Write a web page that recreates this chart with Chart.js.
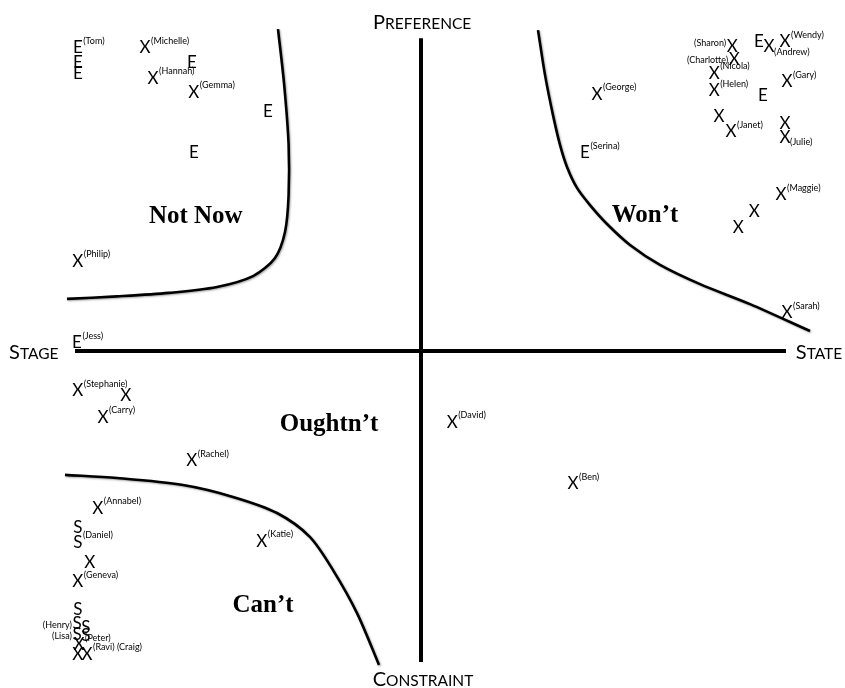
<!DOCTYPE html>
<html><head><meta charset="utf-8">
<script src="https://cdn.jsdelivr.net/npm/chart.js@4/dist/chart.umd.min.js"></script>
<style>html,body{margin:0;padding:0;background:#fff}#wrap{width:845px;height:688px;position:relative}</style>
</head><body><div id="wrap"><canvas id="c"></canvas></div>
<script>
// ---- data (units: arbitrary preference/constraint space, origin at axes crossing) ----
const markerLetters = ['E','E','E','X','E','X','X','E','E','X',
  'X','E','X','X','X','X','X','X','X','E','X','X','X','X','E','X','X','X','X',
  'E','X','X','X','X','X','X','X',
  'X','S','S','X','X','S','S','S','S','S','X','X','X'];
const markerX = [-8.58,-8.58,-8.58,-6.9,-5.73,-6.7,-5.68,-3.83,-5.68,-8.58,
  7.78,8.45,8.7,9.1,7.83,7.33,9.15,4.4,7.33,8.55,7.45,7.75,9.1,9.1,4.1,9.0,8.33,7.93,9.15,
  -8.6,-8.58,-7.38,-7.95,-5.73,-3.98,0.78,3.8,
  -8.08,-8.58,-8.58,-8.28,-8.58,-8.58,-8.6,-8.38,-8.6,-8.38,-8.55,-8.58,-8.35];
const markerY = [8.66,8.23,7.94,8.66,8.23,7.8,7.4,6.83,5.66,2.57,
  8.69,8.83,8.69,8.83,8.34,7.94,7.69,7.34,7.43,7.29,6.71,6.26,6.49,6.11,5.66,4.46,4.0,3.54,1.09,
  0.23,-1.14,-1.26,-1.89,-3.14,-5.43,-2.03,-3.8,
  -4.49,-5.03,-5.46,-6.03,-6.6,-7.4,-7.8,-7.89,-8.11,-8.14,-8.4,-8.66,-8.66];
const markerNames = ['(Tom)','','','(Michelle)','','(Hannah)','(Gemma)','','','(Philip)',
  '(Sharon)','','(Andrew)','(Wendy)','(Charlotte)','(Nicola)','(Gary)','(George)','(Helen)','','','(Janet)','','(Julie)','(Serina)','(Maggie)','','','(Sarah)',
  '(Jess)','(Stephanie)','','(Carry)','(Rachel)','(Katie)','(David)','(Ben)',
  '(Annabel)','','(Daniel)','','(Geneva)','','(Henry)','','(Lisa)','','(Peter)','','(Ravi) (Craig)'];
const namePlacement = ['sup','','','sup','','sup','sup','','','sup',
  'leftSup','','sub','sup','left','sup','sup','sup','sup','','','sup','','sub','sup','sup','','','sup',
  'sup','sup','','sup','sup','sup','sup','sup',
  'sup','','sup','','sup','','left','','left','','sup','','sup'];

const notNowX = [-3.575,-3.42,-3.31,-3.31,-3.4,-3.65,-4.2,-5.1,-6.3,-7.6,-8.85];
const notNowY = [9.2,7.6,5.9,4.45,3.4,2.66,2.14,1.83,1.66,1.56,1.49];
const wontX = [2.925,3.1,3.3,3.475,3.65,3.9,4.225,4.65,5.225,5.975,6.975,8.225,9.725];
const wontY = [9.17,7.89,6.74,5.89,5.26,4.66,4.17,3.63,3.03,2.46,1.91,1.34,0.57];
const cantX = [-8.9,-7.6,-5.95,-4.7,-3.6,-2.78,-2.2,-1.6,-1.05];
const cantY = [-3.54,-3.63,-3.83,-4.17,-4.63,-5.31,-6.26,-7.49,-8.97];

const axisHX = [-8.65, 9.125], axisHY = [0, 0];
const axisVX = [0, 0], axisVY = [8.94, -8.89];

const regionLabels = ['Not Now','Won\u2019t','Oughtn\u2019t','Can\u2019t'];
const regionX = [-5.63, 5.6, -2.3, -3.95];
const regionY = [3.83, 3.86, -2.09, -7.26];

const axisTitles = ['Preference','Constraint','Stage','State'];
const axisTitleX = [0.03, 0.05, -9.68, 9.95];
const axisTitleY = [9.2, -9.57, -0.23, -0.23];

// ---- helpers ----
const pts = (xs, ys) => xs.map((x, i) => ({x, y: ys[i]}));
const SANS = 'Lato, "Open Sans", sans-serif';

function drawSmallCaps(ctx, text, cx, base, big, small) {
  const first = text[0].toUpperCase(), rest = text.slice(1).toUpperCase();
  ctx.font = big + 'px ' + SANS; const w1 = ctx.measureText(first).width;
  ctx.font = small + 'px ' + SANS; const w2 = ctx.measureText(rest).width;
  const x0 = cx - (w1 + w2) / 2;
  ctx.textAlign = 'left'; ctx.textBaseline = 'alphabetic';
  ctx.font = big + 'px ' + SANS; ctx.fillText(first, x0, base);
  ctx.font = small + 'px ' + SANS; ctx.fillText(rest, x0 + w1, base);
}

const textPlugin = {
  id: 'textPlugin',
  beforeDatasetDraw(chart, args) {
    const ds = chart.data.datasets[args.index];
    if (ds.isCurve) {
      const ctx = chart.ctx; ctx.save();
      ctx.shadowColor = 'rgba(0,0,0,0.35)'; ctx.shadowBlur = 2; ctx.shadowOffsetX = 1; ctx.shadowOffsetY = 1;
    }
  },
  afterDatasetDraw(chart, args) {
    const ds = chart.data.datasets[args.index];
    if (ds.isCurve) chart.ctx.restore();
  },
  afterDatasetsDraw(chart) {
    const ctx = chart.ctx, xs = chart.scales.x, ys = chart.scales.y;
    ctx.save();
    ctx.fillStyle = '#000';
    const meta = chart.getDatasetMeta(chart.data.datasets.findIndex(d => d.isMarkers));
    meta.data.forEach((el, i) => {
      const px = el.x, py = el.y;
      ctx.font = '17px ' + SANS; ctx.textAlign = 'center'; ctx.textBaseline = 'middle';
      const L = markerLetters[i];
      ctx.fillText(L, px, py);
      const hw = ctx.measureText(L).width / 2;
      const nm = markerNames[i]; if (!nm) return;
      ctx.font = '9px ' + SANS; ctx.textBaseline = 'middle';
      const p = namePlacement[i];
      if (p === 'sup') { ctx.textAlign = 'left'; ctx.fillText(nm, px + hw + 0.5, py - 7); }
      else if (p === 'sub') { ctx.textAlign = 'left'; ctx.fillText(nm, px + hw - 0.5, py + 5); }
      else if (p === 'left') { ctx.textAlign = 'right'; ctx.fillText(nm, px - hw - 0.5, py + 1); }
      else if (p === 'leftSup') { ctx.textAlign = 'right'; ctx.fillText(nm, px - hw - 0.5, py - 4); }
    });
    ctx.font = 'bold 25px "Liberation Serif", "Times New Roman", serif';
    ctx.textAlign = 'center'; ctx.textBaseline = 'middle';
    regionLabels.forEach((t, i) => ctx.fillText(t, xs.getPixelForValue(regionX[i]), ys.getPixelForValue(regionY[i])));
    axisTitles.forEach((t, i) => drawSmallCaps(ctx, t, xs.getPixelForValue(axisTitleX[i]), ys.getPixelForValue(axisTitleY[i]), 20, 15.5));
    ctx.restore();
  }
};

const lineDs = (data, w, curve) => ({type: 'scatter', data, showLine: true, borderColor: '#000', borderWidth: w,
  pointRadius: 0, tension: curve ? 0.3 : 0, clip: false, isCurve: curve, borderCapStyle: 'butt'});

new Chart(document.getElementById('c'), {
  type: 'scatter',
  data: {
    datasets: [
      lineDs(pts(axisHX, axisHY), 4, false),
      lineDs(pts(axisVX, axisVY), 4, false),
      lineDs(pts(notNowX, notNowY), 2.6, true),
      lineDs(pts(wontX, wontY), 2.6, true),
      lineDs(pts(cantX, cantY), 2.6, true),
      {type: 'scatter', data: pts(markerX, markerY), pointRadius: 0, isMarkers: true}
    ]
  },
  options: {
    responsive: true, maintainAspectRatio: false, animation: false, events: [],
    layout: {padding: 0},
    plugins: {legend: {display: false}, tooltip: {enabled: false}},
    scales: {
      x: {type: 'linear', display: false, min: -10.525, max: 10.6},
      y: {type: 'linear', display: false, min: -9.63, max: 10.03}
    }
  },
  plugins: [textPlugin]
});
</script></body></html>
